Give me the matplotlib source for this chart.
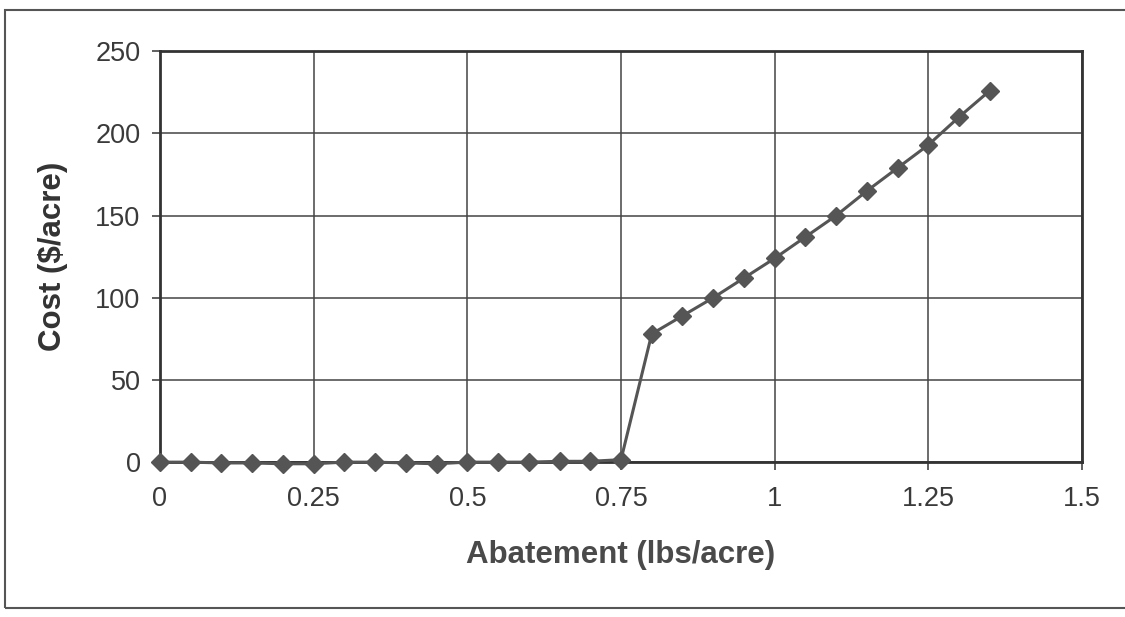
import matplotlib.pyplot as plt
from matplotlib.patches import Rectangle

abatement = [0, 0.05, 0.1, 0.15, 0.2, 0.25, 0.3, 0.35, 0.4, 0.45,
             0.5, 0.55, 0.6, 0.65, 0.7, 0.75, 0.8, 0.85, 0.9, 0.95,
             1.0, 1.05, 1.1, 1.15, 1.2, 1.25, 1.3, 1.35]
cost = [0, 0, -0.5, -0.5, -1, -1, 0, 0, -0.5, -1,
        0, 0, 0, 0.5, 0.5, 1.5, 78, 89, 100, 112,
        124, 137, 150, 165, 179, 193, 210, 226]

xticks = [0, 0.25, 0.5, 0.75, 1, 1.25, 1.5]
xticklabels = ['0', '0.25', '0.5', '0.75', '1', '1.25', '1.5']
yticks = [0, 50, 100, 150, 200, 250]

ink = '#3a3a3a'
plt.rcParams['font.family'] = ['Liberation Sans', 'DejaVu Sans']

fig = plt.figure(figsize=(11.25, 6.17), dpi=100)
ax = fig.add_axes([0.1422, 0.251, 0.8196, 0.666])

ax.plot(abatement, cost, color='#555555', linewidth=2.2, marker='D',
        markersize=9.5, clip_on=False, zorder=3)

ax.set_xlim(0, 1.5)
ax.set_ylim(0, 250)
ax.set_xticks(xticks)
ax.set_xticklabels(xticklabels)
ax.set_yticks(yticks)
ax.grid(True, color='#444444', linewidth=1.1)
ax.set_axisbelow(True)

for side in ax.spines.values():
    side.set_color('#333333')
    side.set_linewidth(2)

ax.tick_params(axis='both', direction='out', length=6, width=1.2,
               color='#444444', labelsize=19.5, labelcolor=ink)
ax.tick_params(axis='x', pad=11)
ax.tick_params(axis='y', pad=8)

ax.set_xlabel('Abatement (lbs/acre)', fontsize=22.5, fontweight='bold',
              color='#4a4a4a', labelpad=20)
ax.set_ylabel('Cost ($/acre)', fontsize=22.5, fontweight='bold',
              color='#333333', labelpad=20)

# outer frame around the whole chart
fig.patches.append(Rectangle((5 / 1125, 9 / 617), 1.02, 598 / 617,
                             transform=fig.transFigure, fill=False,
                             edgecolor='#555555', linewidth=1.5))

plt.savefig('out.png', dpi=100)
